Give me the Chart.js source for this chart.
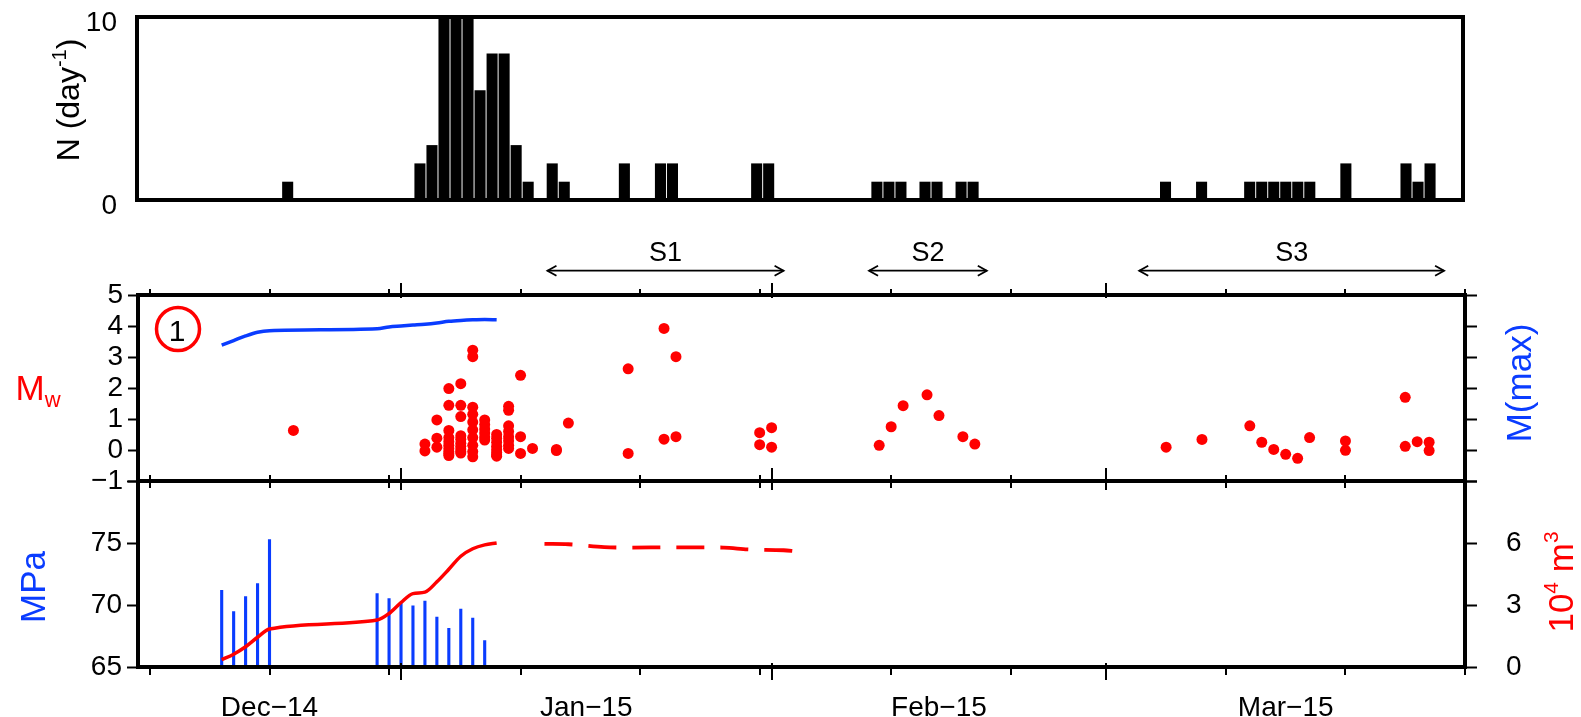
<!DOCTYPE html>
<html>
<head>
<meta charset="utf-8">
<script src="https://cdn.jsdelivr.net/npm/chart.js@4.4.1/dist/chart.umd.min.js"></script>
<style>
html,body{margin:0;padding:0;background:#fff;}
#wrap{position:relative;width:1581px;height:717px;overflow:hidden;background:#fff;}
canvas{position:absolute;left:0;}
</style>
</head>
<body>
<div id="wrap">
<canvas id="cTop" width="1581" height="235" style="top:0px;width:1581px;height:235px"></canvas>
<canvas id="cMid" width="1581" height="265" style="top:225px;width:1581px;height:265px"></canvas>
<canvas id="cBot" width="1581" height="247" style="top:470px;width:1581px;height:247px"></canvas>
</div>
<script>
// ---------------- data (day 0 = 1 Dec 2014) ----------------
const countDays   = [22, 33, 34, 35, 36, 37, 38, 39, 40, 41, 42, 44, 45, 50, 53, 54, 61, 62,
                     71, 72, 73, 75, 76, 78, 79, 95, 98, 102, 103, 104, 105, 106, 107, 110, 115, 116, 117];
const dailyCounts = [1, 2, 3, 10, 10, 10, 6, 8, 8, 3, 1, 2, 1, 2, 2, 2, 2, 2,
                     1, 1, 1, 1, 1, 1, 1, 1, 1, 1, 1, 1, 1, 1, 1, 2, 2, 1, 2];

const quakeDays = [
  22,
  33, 33,
  34, 34, 34,
  35, 35, 35, 35, 35, 35, 35, 35, 35, 35,
  36, 36, 36, 36, 36, 36, 36, 36, 36, 36,
  37, 37, 37, 37, 37, 37, 37, 37, 37, 37,
  38, 38, 38, 38, 38, 38,
  39, 39, 39, 39, 39, 39, 39, 39,
  40, 40, 40, 40, 40, 40, 40, 40,
  41, 41, 41,
  42,
  44, 44,
  45,
  50, 50,
  53, 53,
  54, 54,
  61, 61,
  62, 62,
  71, 72, 73, 75, 76, 78, 79,
  95, 98, 102, 103, 104, 105, 106, 107,
  110, 110,
  115, 115,
  116,
  117, 117
];
const quakeMw = [
  0.63,
  0.19, -0.03,
  0.97, 0.38, 0.09,
  1.98, 1.44, 0.63, 0.40, 0.27, 0.15, 0.05, -0.05, -0.12, -0.18,
  2.14, 1.44, 1.08, 0.46, 0.35, 0.22, 0.12, 0.03, -0.05, -0.10,
  3.22, 3.01, 1.38, 1.15, 0.90, 0.65, 0.40, 0.15, -0.05, -0.22,
  0.97, 0.82, 0.68, 0.55, 0.42, 0.32,
  0.50, 0.38, 0.25, 0.12, 0.02, -0.08, -0.16, -0.20,
  1.41, 1.28, 0.78, 0.60, 0.43, 0.30, 0.15, 0.05,
  2.41, 0.43, -0.11,
  0.05,
  -0.02, 0.02,
  0.87,
  2.62, -0.11,
  3.92, 0.35,
  3.01, 0.43,
  0.56, 0.17,
  0.72, 0.09,
  0.15, 0.75, 1.43, 1.78, 1.11, 0.43, 0.19,
  0.09, 0.34, 0.78, 0.25, 0.02, -0.14, -0.27, 0.40,
  0.29, -0.01,
  1.70, 0.12,
  0.27,
  0.25, -0.02
];

const mmaxDays   = [16, 17, 18, 19, 20, 29, 30, 31, 32, 33, 34, 35, 36, 37, 38, 39];
const mmaxValues = [3.38, 3.53, 3.68, 3.80, 3.85, 3.91, 3.97, 4.00, 4.03, 4.06, 4.10, 4.15, 4.18, 4.20, 4.21, 4.20];

const pressureDays = [16, 17, 18, 19, 20, 29, 30, 31, 32, 33, 34, 35, 36, 37, 38];
const pressureMPa  = [71.2, 69.5, 70.7, 71.75, 75.3, 70.95, 70.55, 70.2, 69.95, 70.35, 69.05, 68.15, 69.7, 68.98, 67.15];

const volumeDays   = [16, 17, 18, 19, 20, 29, 30, 31, 32, 33, 34, 35, 36, 37, 38, 39];
const volumeValues = [0.35, 0.62, 0.98, 1.44, 1.84, 2.27, 2.59, 3.12, 3.55, 3.62, 4.12, 4.73, 5.36, 5.72, 5.91, 6.0];

const projectionDays   = [43, 45, 48, 50, 54, 58, 60, 63, 64];
const projectionValues = [5.96, 5.94, 5.80, 5.78, 5.79, 5.78, 5.69, 5.65, 5.60];

const monthLabels    = ['Dec\u221214', 'Jan\u221215', 'Feb\u221215', 'Mar\u221215'];
const monthStartDays = [0, 31, 62, 90, 121];
const majorTickDays  = [31, 62, 90];
const minorTickDays  = [10, 20, 30, 41, 51, 61, 72, 82, 100, 110, 120];

const stageNames = ['S1', 'S2', 'S3'];
const stageStart = [43.25, 70.15, 92.75];
const stageEnd   = [63.0, 80.0, 118.25];

// ---------------- layout / style ----------------
const X_MIN = 9, X_MAX = 120;
const TOP_X_MIN = 9.47, TOP_X_MAX = 119.74;
const FONT = "'Liberation Sans', Arial, Helvetica, sans-serif";
const BLUE = '#0a3cff';
const RED = '#ff0000';

Chart.defaults.font.family = FONT;
Chart.defaults.color = '#000';

function fitTo(size) {
  return function (s) {
    if (s.isHorizontal()) s.height = size; else s.width = size;
    s.paddingTop = 0; s.paddingBottom = 0; s.paddingLeft = 0; s.paddingRight = 0;
  };
}
function minusFmt(v) { return v < 0 ? '\u2212' + Math.abs(v) : String(v); }

function drawFrame(chart, w) {
  const {ctx, chartArea: a} = chart;
  ctx.save();
  ctx.strokeStyle = '#000';
  ctx.lineWidth = w;
  ctx.strokeRect(a.left, a.top, a.right - a.left, a.bottom - a.top);
  ctx.restore();
}
function drawTickMarks(chart, specs) {
  const {ctx, chartArea: a} = chart;
  const xs = chart.scales.x;
  ctx.save();
  ctx.strokeStyle = '#000';
  ctx.lineWidth = 2;
  specs.forEach(s => s.days.forEach(d => {
    const px = Math.round(xs.getPixelForValue(d));
    const y0 = s.edge === 'top' ? a.top : a.bottom;
    ctx.beginPath();
    ctx.moveTo(px, y0 + s.from);
    ctx.lineTo(px, y0 + s.to);
    ctx.stroke();
  }));
  ctx.restore();
}
function drawRich(ctx, parts, cx, cy, rot, color) {
  ctx.save();
  ctx.translate(cx, cy);
  ctx.rotate(rot);
  ctx.fillStyle = color;
  ctx.textBaseline = 'alphabetic';
  ctx.textAlign = 'left';
  let total = 0;
  parts.forEach(p => { ctx.font = p.size + 'px ' + FONT; p.w = ctx.measureText(p.t).width; total += p.w; });
  let x = -total / 2;
  const base = parts[0].size * 0.358;
  parts.forEach(p => {
    ctx.font = p.size + 'px ' + FONT;
    ctx.fillText(p.t, x, base + (p.dy || 0));
    x += p.w;
  });
  ctx.restore();
}

const tickFont = {size: 28, family: FONT};

// ---------------- top panel: daily event counts ----------------
new Chart(document.getElementById('cTop'), {
  type: 'bar',
  data: {
    datasets: [{
      label: 'N',
      data: countDays.map((d, i) => ({x: d, y: dailyCounts[i]})),
      backgroundColor: '#000',
      borderWidth: 0,
      barPercentage: 0.92,
      categoryPercentage: 1.0
    }]
  },
  options: {
    responsive: false, animation: false, devicePixelRatio: 1,
    layout: {padding: {left: 0, right: 118, top: 17, bottom: 35}},
    plugins: {legend: {display: false}, tooltip: {enabled: false}},
    scales: {
      x: {
        type: 'linear', min: TOP_X_MIN, max: TOP_X_MAX, offset: false, display: false,
        grid: {display: false, offset: false},
        afterBuildTicks: s => { s.ticks = []; },
        afterFit: fitTo(0)
      },
      y: {
        min: 0, max: 10,
        ticks: {stepSize: 10, font: tickFont, padding: 12, labelOffset: 6, autoSkip: false},
        grid: {display: false},
        border: {display: false},
        afterFit: fitTo(137)
      }
    }
  },
  plugins: [{
    id: 'topDeco',
    afterDatasetsDraw(chart) { drawFrame(chart, 4); },
    afterDraw(chart) {
      drawRich(chart.ctx, [
        {t: 'N (day', size: 32},
        {t: '-1', size: 20, dy: -13},
        {t: ')', size: 32}
      ], 68, 100, -Math.PI / 2, '#000');
    }
  }]
});

// ---------------- middle panel: magnitudes ----------------
new Chart(document.getElementById('cMid'), {
  type: 'scatter',
  data: {
    datasets: [
      {
        type: 'line', label: 'M(max)',
        data: mmaxDays.map((d, i) => ({x: d, y: mmaxValues[i]})),
        yAxisID: 'yR', borderColor: BLUE, borderWidth: 3.5, pointRadius: 0,
        cubicInterpolationMode: 'monotone', fill: false, order: 1
      },
      {
        type: 'scatter', label: 'Mw',
        data: quakeDays.map((d, i) => ({x: d, y: quakeMw[i]})),
        yAxisID: 'y', backgroundColor: RED, borderColor: RED, borderWidth: 0,
        pointRadius: 5.5, order: 0
      }
    ]
  },
  options: {
    responsive: false, animation: false, devicePixelRatio: 1,
    layout: {padding: {left: 0, right: 0, top: 70, bottom: 9}},
    plugins: {legend: {display: false}, tooltip: {enabled: false}},
    scales: {
      x: {
        type: 'linear', min: X_MIN, max: X_MAX, display: false,
        afterBuildTicks: s => { s.ticks = []; },
        afterFit: fitTo(0)
      },
      y: {
        position: 'left', min: -1, max: 5,
        ticks: {stepSize: 1, font: tickFont, padding: 5, autoSkip: false, callback: minusFmt},
        grid: {display: true, drawOnChartArea: false, drawTicks: true, tickLength: 10, tickWidth: 2, tickColor: '#000'},
        border: {display: false},
        afterFit: fitTo(138)
      },
      yR: {
        position: 'right', min: -1, max: 5,
        ticks: {stepSize: 1, display: false, autoSkip: false},
        grid: {display: true, drawOnChartArea: false, drawTicks: true, tickLength: 12, tickWidth: 2, tickColor: '#000'},
        border: {display: false},
        afterFit: fitTo(116)
      }
    }
  },
  plugins: [{
    id: 'midDeco',
    afterDatasetsDraw(chart) {
      drawTickMarks(chart, [
        {edge: 'top', days: minorTickDays, from: -6, to: 0},
        {edge: 'top', days: majorTickDays, from: -12, to: 3},
        {edge: 'bottom', days: minorTickDays, from: -6, to: 7},
        {edge: 'bottom', days: majorTickDays, from: -13, to: 12}
      ]);
      drawFrame(chart, 4);
    },
    afterDraw(chart) {
      const ctx = chart.ctx, a = chart.chartArea, xs = chart.scales.x;
      // stage arrows
      const yA = 270.7 - 225, yL = 254 - 225;
      ctx.save();
      ctx.strokeStyle = '#000';
      ctx.lineWidth = 1.8;
      ctx.fillStyle = '#000';
      ctx.font = '27px ' + FONT;
      ctx.textAlign = 'center';
      ctx.textBaseline = 'middle';
      stageNames.forEach((n, i) => {
        const x1 = xs.getPixelForValue(stageStart[i]);
        const x2 = xs.getPixelForValue(stageEnd[i]);
        ctx.beginPath(); ctx.moveTo(x1, yA); ctx.lineTo(x2, yA); ctx.stroke();
        ctx.beginPath(); ctx.moveTo(x1 + 9, yA - 5); ctx.lineTo(x1, yA); ctx.lineTo(x1 + 9, yA + 5); ctx.stroke();
        ctx.beginPath(); ctx.moveTo(x2 - 9, yA - 5); ctx.lineTo(x2, yA); ctx.lineTo(x2 - 9, yA + 5); ctx.stroke();
        ctx.fillText(n, (x1 + x2) / 2, yL);
      });
      // circled "1"
      const cx = a.left + 40, cy = a.top + 34;
      ctx.strokeStyle = RED;
      ctx.lineWidth = 3.5;
      ctx.beginPath(); ctx.arc(cx, cy, 21.5, 0, Math.PI * 2); ctx.stroke();
      ctx.restore();
      drawRich(ctx, [{t: '1', size: 30}], cx - 1, cy + 1, 0, '#000');
      // axis titles
      drawRich(ctx, [{t: 'M', size: 35}, {t: 'w', size: 22, dy: 7}], 38, 387 - 225, 0, RED);
      drawRich(ctx, [{t: 'M(max)', size: 35}], 1518, 383 - 225, -Math.PI / 2, BLUE);
    }
  }]
});

// ---------------- bottom panel: pressure and volume ----------------
new Chart(document.getElementById('cBot'), {
  type: 'bar',
  data: {
    datasets: [
      {
        type: 'bar', label: 'MPa',
        data: pressureDays.map((d, i) => ({x: d, y: pressureMPa[i]})),
        yAxisID: 'yP', backgroundColor: BLUE, borderWidth: 0,
        barPercentage: 0.26, categoryPercentage: 1.0, order: 2
      },
      {
        type: 'line', label: 'Volume',
        data: volumeDays.map((d, i) => ({x: d, y: volumeValues[i]})),
        yAxisID: 'yV', borderColor: RED, borderWidth: 3.5, pointRadius: 0,
        cubicInterpolationMode: 'monotone', fill: false, order: 1
      },
      {
        type: 'line', label: 'Volume (projected)',
        data: projectionDays.map((d, i) => ({x: d, y: projectionValues[i]})),
        yAxisID: 'yV', borderColor: RED, borderWidth: 3.8, borderDash: [28, 16], pointRadius: 0,
        cubicInterpolationMode: 'monotone', fill: false, order: 1
      }
    ]
  },
  options: {
    responsive: false, animation: false, devicePixelRatio: 1,
    layout: {padding: {left: 0, right: 0, top: 11, bottom: 0}},
    plugins: {legend: {display: false}, tooltip: {enabled: false}},
    scales: {
      x: {
        type: 'linear', min: X_MIN, max: X_MAX, offset: false, position: 'bottom',
        afterBuildTicks: s => {
          s.ticks = monthLabels.map((m, i) => ({
            value: (Math.max(monthStartDays[i], X_MIN) + Math.min(monthStartDays[i + 1], X_MAX)) / 2
          }));
        },
        ticks: {font: tickFont, padding: 16, autoSkip: false, maxRotation: 0, callback: (v, i) => monthLabels[i]},
        grid: {display: false, offset: false},
        border: {display: false},
        afterFit: fitTo(50)
      },
      yP: {
        position: 'left', min: 65, max: 80,
        ticks: {stepSize: 5, font: tickFont, padding: 5, autoSkip: false, callback: v => (v === 80 ? '' : String(v))},
        grid: {display: true, drawOnChartArea: false, drawTicks: true, tickLength: 11, tickWidth: 2, tickColor: '#000'},
        border: {display: false},
        afterFit: fitTo(138)
      },
      yV: {
        position: 'right', min: 0, max: 9,
        ticks: {stepSize: 3, font: tickFont, padding: 29, autoSkip: false, callback: v => (v === 9 ? '' : String(v))},
        grid: {display: true, drawOnChartArea: false, drawTicks: true, tickLength: 12, tickWidth: 2, tickColor: '#000'},
        border: {display: false},
        afterFit: fitTo(116)
      }
    }
  },
  plugins: [{
    id: 'botDeco',
    afterDatasetsDraw(chart) {
      drawTickMarks(chart, [
        {edge: 'bottom', days: minorTickDays, from: 0, to: 8},
        {edge: 'bottom', days: majorTickDays, from: -4, to: 13}
      ]);
      drawFrame(chart, 4);
    },
    afterDraw(chart) {
      const ctx = chart.ctx;
      drawRich(ctx, [{t: 'MPa', size: 35}], 32, 587 - 470, -Math.PI / 2, BLUE);
      drawRich(ctx, [
        {t: '10', size: 35},
        {t: '4', size: 21, dy: -15},
        {t: ' m', size: 35},
        {t: '3', size: 21, dy: -15}
      ], 1560, 582 - 470, -Math.PI / 2, RED);
    }
  }]
});
</script>
</body>
</html>
